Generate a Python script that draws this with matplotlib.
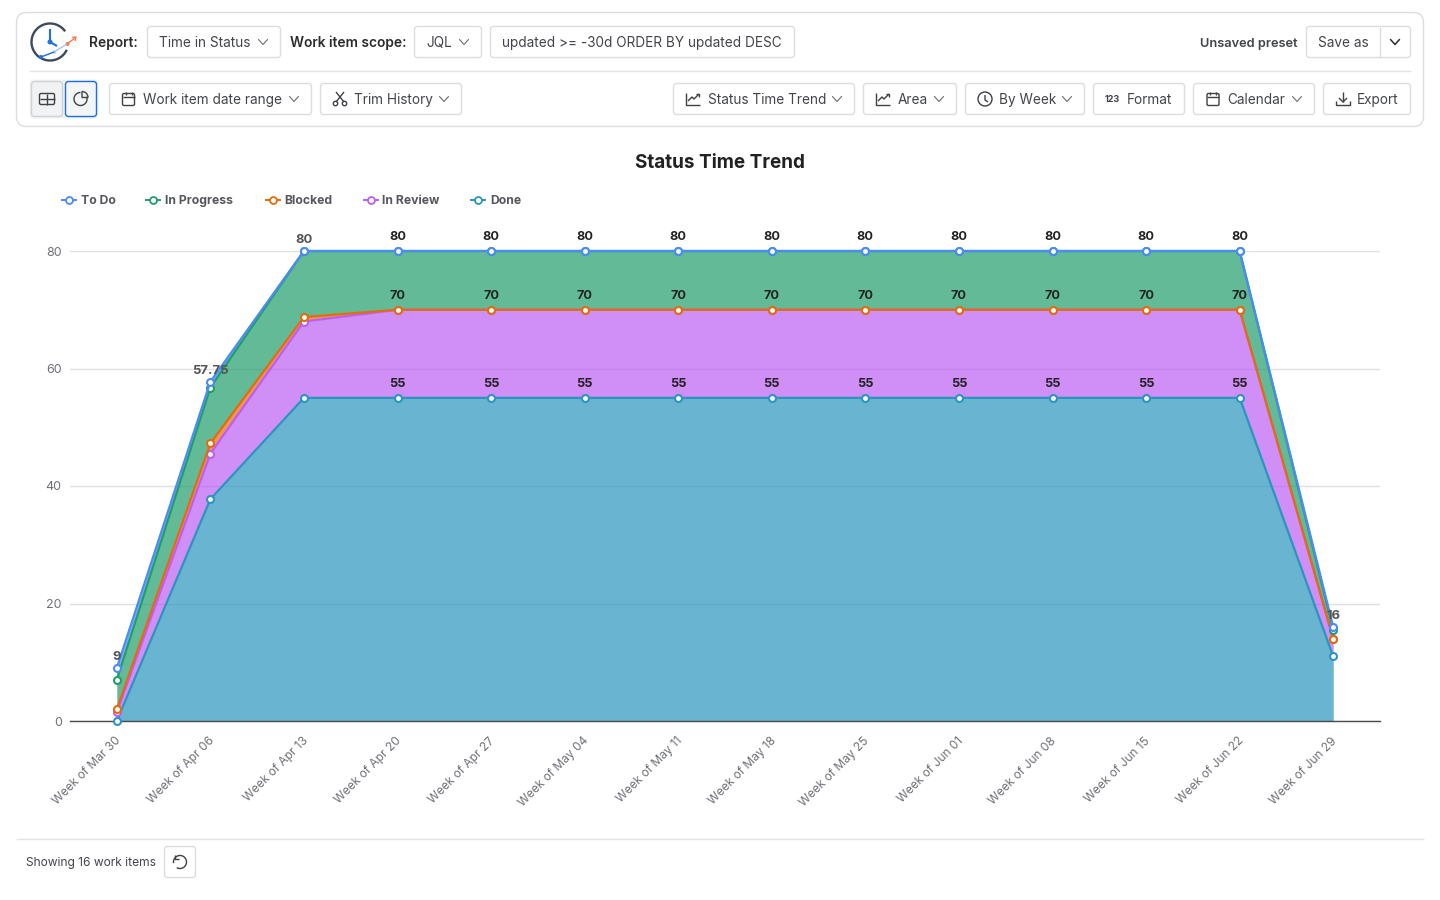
import numpy as np
import matplotlib
matplotlib.use('Agg')
import matplotlib.pyplot as plt
from matplotlib.patches import FancyBboxPatch, Circle, Arc, Wedge
from matplotlib.transforms import ScaledTranslation

plt.rcParams['font.family'] = ['Inter', 'DejaVu Sans']

# Weekly buckets and cumulative series heights
weeks = ['Week of Mar 30', 'Week of Apr 06', 'Week of Apr 13', 'Week of Apr 20',
         'Week of Apr 27', 'Week of May 04', 'Week of May 11', 'Week of May 18',
         'Week of May 25', 'Week of Jun 01', 'Week of Jun 08', 'Week of Jun 15',
         'Week of Jun 22', 'Week of Jun 29']
todo = [9, 57.75, 80, 80, 80, 80, 80, 80, 80, 80, 80, 80, 80, 16]
in_progress = [7, 56.75, 80, 80, 80, 80, 80, 80, 80, 80, 80, 80, 80, 15.5]
blocked = [2, 47.25, 68.75, 70, 70, 70, 70, 70, 70, 70, 70, 70, 70, 14]
in_review = [1.5, 45.5, 68, 70, 70, 70, 70, 70, 70, 70, 70, 70, 70, 14]
done = [0, 37.75, 55, 55, 55, 55, 55, 55, 55, 55, 55, 55, 55, 11]

y_ticks = [0, 20, 40, 60, 80]
series_names = ['To Do', 'In Progress', 'Blocked', 'In Review', 'Done']
series_colors = ['#4C8BF5', '#209E6A', '#E46C0A', '#BC5EF4', '#2A95BD']

DARK = '#2b2b2b'
TEXT = '#42444a'
BORDER = '#dcdde0'
PX = 72 / 100  # one pixel in points at dpi 100

fig = plt.figure(figsize=(14.4, 9), dpi=100)

# Plot area sits at x 70..1380 and y 251..721 in pixels
ax = fig.add_axes([70 / 1440, 1 - 721 / 900, 1310 / 1440, 470 / 900])
ax.set_xlim(-0.5, 13.5)
ax.set_ylim(0, 80)
x = np.arange(len(weeks))

stack = [todo, in_progress, blocked, in_review, done]
bases = [in_progress, blocked, in_review, done, [0] * len(weeks)]
for top, base, color in zip(stack, bases, series_colors):
    ax.fill_between(x, base, top, color=color, alpha=0.7, linewidth=0, zorder=2)

for values, color in zip(reversed(stack), reversed(series_colors)):
    ax.plot(x, values, color=color, linewidth=1.6, zorder=3, clip_on=False,
            solid_joinstyle='round', marker='o', markersize=5.0,
            markerfacecolor='white', markeredgecolor=color, markeredgewidth=1.5)

ax.set_yticks(y_ticks)
ax.set_xticks(x)
ax.set_xticklabels(weeks, rotation=45, ha='right', va='top', rotation_mode='anchor',
                   fontsize=8.6, color='#6e7076')
ax.tick_params(axis='x', length=0, pad=10)
ax.tick_params(axis='y', length=0, pad=6, labelsize=9, labelcolor='#6e7076')
# Nudge the rotated labels left so their ends sit under the points
shift = ScaledTranslation(-2 / 100, 0, fig.dpi_scale_trans)
for tick_label in ax.get_xticklabels():
    tick_label.set_transform(tick_label.get_transform() + shift)
ax.grid(axis='y', color='#e0e0e0', linewidth=1, zorder=1)
ax.set_axisbelow(True)
for side in ['top', 'right', 'left']:
    ax.spines[side].set_visible(False)
ax.spines['bottom'].set_color('#4a4a4a')
ax.spines['bottom'].set_linewidth(1)

# Value labels: the ramp points are lighter and sit closer to their marker
for i in x:
    ramp = i in (0, 1, 2, 13)
    ax.annotate(f'{todo[i]:g}', (i, todo[i]), xytext=(0, 3.4 if ramp else 5.5), textcoords='offset points',
                ha='center', va='bottom', fontsize=9.4 if ramp else 9.1, fontweight='bold',
                color='#555555' if ramp else '#222222', zorder=6, annotation_clip=False)
for i in x[3:13]:
    for values in (blocked, done):
        ax.annotate(f'{values[i]:g}', (i, values[i]), xytext=(0, 5.5), textcoords='offset points',
                    ha='center', va='bottom', fontsize=9.1, fontweight='bold', color='#222222',
                    zorder=6, annotation_clip=False)

# Overlay in pixel coordinates for the title, legend and toolbar
ui = fig.add_axes([0, 0, 1, 1], zorder=5)
ui.set_xlim(0, 1440)
ui.set_ylim(900, 0)
ui.axis('off')
ui.patch.set_alpha(0)


def box(x0, y0, w, h, radius=3, edge=BORDER, face='white', lw=1.0):
    ui.add_patch(FancyBboxPatch((x0, y0), w, h, boxstyle=f'round,pad=0,rounding_size={radius}',
                                facecolor=face, edgecolor=edge, linewidth=lw * PX * 1.39))


def label(tx, ty, s, size=13.6, weight='normal', color=TEXT, ha='left'):
    ui.text(tx, ty + size * 0.36, s, fontsize=size * PX, fontweight=weight, color=color, ha=ha, va='baseline')


def chevron(cx, cy, w=4.5, h=2.5, color='#6a6c72', lw=0.8):
    ui.plot([cx - w, cx, cx + w], [cy - h, cy + h, cy - h], color=color, linewidth=lw,
            solid_capstyle='round', solid_joinstyle='round')


def stroke(xs, ys, color='#3f4146', lw=1.0):
    ui.plot(xs, ys, color=color, linewidth=lw, solid_capstyle='butt', solid_joinstyle='round')


def calendar_icon(cx, cy):
    ui.add_patch(FancyBboxPatch((cx - 6, cy - 5.5), 12, 12, boxstyle='round,pad=0,rounding_size=1.5',
                                facecolor='none', edgecolor='#3f4146', linewidth=1.0))
    stroke([cx - 6, cx + 6], [cy - 2, cy - 2])
    stroke([cx - 3, cx - 3], [cy - 7, cy - 4])
    stroke([cx + 3, cx + 3], [cy - 7, cy - 4])


def trend_icon(cx, cy):
    stroke([cx - 7, cx - 7, cx + 7], [cy - 6, cy + 6, cy + 6])
    stroke([cx - 5, cx - 1, cx + 1, cx + 6], [cy + 2, cy - 2, cy, cy - 5])
    stroke([cx + 3, cx + 6, cx + 6], [cy - 5, cy - 5, cy - 2])


def clock_icon(cx, cy):
    ui.add_patch(Circle((cx, cy), 7, facecolor='none', edgecolor='#3f4146', linewidth=1.0))
    stroke([cx, cx, cx + 3], [cy - 4, cy + 1, cy + 3])


def export_icon(cx, cy):
    stroke([cx, cx], [cy - 7, cy + 3])
    stroke([cx - 4, cx, cx + 4], [cy - 1, cy + 3, cy - 1])
    stroke([cx - 7, cx - 7, cx + 7, cx + 7], [cy + 2, cy + 6, cy + 6, cy + 2])


def scissors_icon(cx, cy):
    stroke([cx - 4, cx + 4], [cy - 7, cy + 3])
    stroke([cx + 4, cx - 4], [cy - 7, cy + 3])
    ui.add_patch(Circle((cx - 4.5, cy + 4.5), 2.2, facecolor='white', edgecolor='#3f4146', linewidth=1.0))
    ui.add_patch(Circle((cx + 4.5, cy + 4.5), 2.2, facecolor='white', edgecolor='#3f4146', linewidth=1.0))


# Toolbar card
box(16.5, 12.5, 1407, 114, radius=10, edge='#dddee1')
stroke([29, 1411], [71.3, 71.3], color='#e2e3e5')

# Product logo
ui.add_patch(Arc((50, 42), 37, 37, theta1=-335, theta2=-35, color='#3d4a5c', linewidth=1.7))
stroke([50, 50, 57], [29, 42, 46], color='#1e6fe0', lw=1.5)
ui.add_patch(Circle((50, 42), 1.8, facecolor='white', edgecolor='#1e6fe0', linewidth=1.0))
stroke([41, 54], [57, 52], color='#1e6fe0', lw=1.0)
stroke([54, 67], [52, 44], color='#a9c6f4', lw=1.0)
stroke([67, 75], [44, 38], color='#f47a55', lw=1.0)
stroke([72, 76, 75], [37.5, 37, 41], color='#f47a55', lw=1.0)
ui.add_patch(Circle((41, 57), 2, facecolor='#1e6fe0', edgecolor='none'))
ui.add_patch(Circle((54.5, 52), 1.8, facecolor='#a9c6f4', edgecolor='none'))
ui.add_patch(Circle((67.5, 44), 2, facecolor='#f47a55', edgecolor='none'))

# First toolbar row
label(89, 42, 'Report:', size=13.8, weight='semibold', color=DARK)
box(147.5, 26.5, 133, 31)
label(159, 42, 'Time in Status')
chevron(263, 42)
label(290, 42, 'Work item scope:', size=13.8, weight='semibold', color=DARK)
box(414.5, 26.5, 67, 31)
label(426.5, 42, 'JQL')
chevron(464, 42)
box(490.5, 26.5, 304, 31)
label(502.5, 42, 'updated >= -30d ORDER BY updated DESC')
label(1298, 42, 'Unsaved preset', size=12.8, weight='semibold', ha='right')
box(1306.5, 26.5, 104, 31)
stroke([1379.5, 1379.5], [26.5, 57.5], color=BORDER)
label(1318.5, 42, 'Save as')
chevron(1395, 42, color='#2b2d31', lw=1.1)

# Second toolbar row, left side
box(29.5, 79.5, 69, 39, radius=4, edge='none', face='#f1f2f4')
box(31.5, 81.5, 31, 35, radius=3, edge='#d0d2d6', face='#f1f2f4')
box(65.5, 81.5, 31, 35, radius=3, edge='#1b6fe0', face='#f4f5f7')
ui.add_patch(FancyBboxPatch((39.5, 93.5), 15, 11, boxstyle='round,pad=0,rounding_size=1.5',
                            facecolor='none', edgecolor='#3f4146', linewidth=1.0))
stroke([39.5, 54.5], [99, 99])
stroke([47, 47], [93.5, 104.5])
ui.add_patch(Arc((80.5, 99), 13, 13, theta1=-20, theta2=270, color='#3f4146', linewidth=1.0))
ui.add_patch(Wedge((82, 97.5), 6, 270, 360, facecolor='none', edgecolor='#3f4146', linewidth=1.0))

box(109.5, 83.5, 202, 31)
calendar_icon(128.5, 99)
label(143, 99, 'Work item date range')
chevron(294, 99)
box(320.5, 83.5, 141, 31)
scissors_icon(340, 99)
label(353.5, 99, 'Trim History')
chevron(444, 99)

# Second toolbar row, right side
box(673.5, 83.5, 181, 31)
trend_icon(693, 99)
label(707.5, 99, 'Status Time Trend')
chevron(837, 99)
box(863.5, 83.5, 93, 31)
trend_icon(883, 99)
label(897.5, 99, 'Area')
chevron(939, 99)
box(965.5, 83.5, 119, 31)
clock_icon(985, 99)
label(999, 99, 'By Week')
chevron(1067, 99)
box(1093.5, 83.5, 91, 31)
label(1105, 99, '123', size=9, weight='bold', color='#3f4146')
label(1127, 99, 'Format')
box(1193.5, 83.5, 121, 31)
calendar_icon(1213, 99)
label(1227, 99, 'Calendar')
chevron(1297, 99)
box(1323.5, 83.5, 87, 31)
export_icon(1343, 99)
label(1357, 99, 'Export')

# Chart title
ui.text(720, 168, 'Status Time Trend', fontsize=18.9 * PX, fontweight='bold', color='#222222',
        ha='center', va='baseline')

# Legend entries placed along one row
legend_x = [69, 153, 272.5, 370.5, 478]
for lx, name, color in zip(legend_x, series_names, series_colors):
    ui.plot([lx - 7, lx + 7], [199.5, 199.5], color=color, linewidth=1.4)
    ui.plot([lx], [199.5], marker='o', markersize=5, markerfacecolor='white',
            markeredgecolor=color, markeredgewidth=1.3, color=color)
    label(lx + 12, 199.5, name, size=12.2, weight='bold', color='#55575c')

# Footer
stroke([16, 1424], [839.3, 839.3], color='#e2e3e5')
label(26, 861.5, 'Showing 16 work items', size=12)
box(164.5, 846.5, 31, 31)
ui.add_patch(Arc((180, 862), 13, 13, theta1=-190, theta2=120, color='#3f4146', linewidth=1.0))
stroke([174.5, 174.5, 178.5], [854.5, 858.5, 858.5])

fig.savefig('out.png', dpi=100)
